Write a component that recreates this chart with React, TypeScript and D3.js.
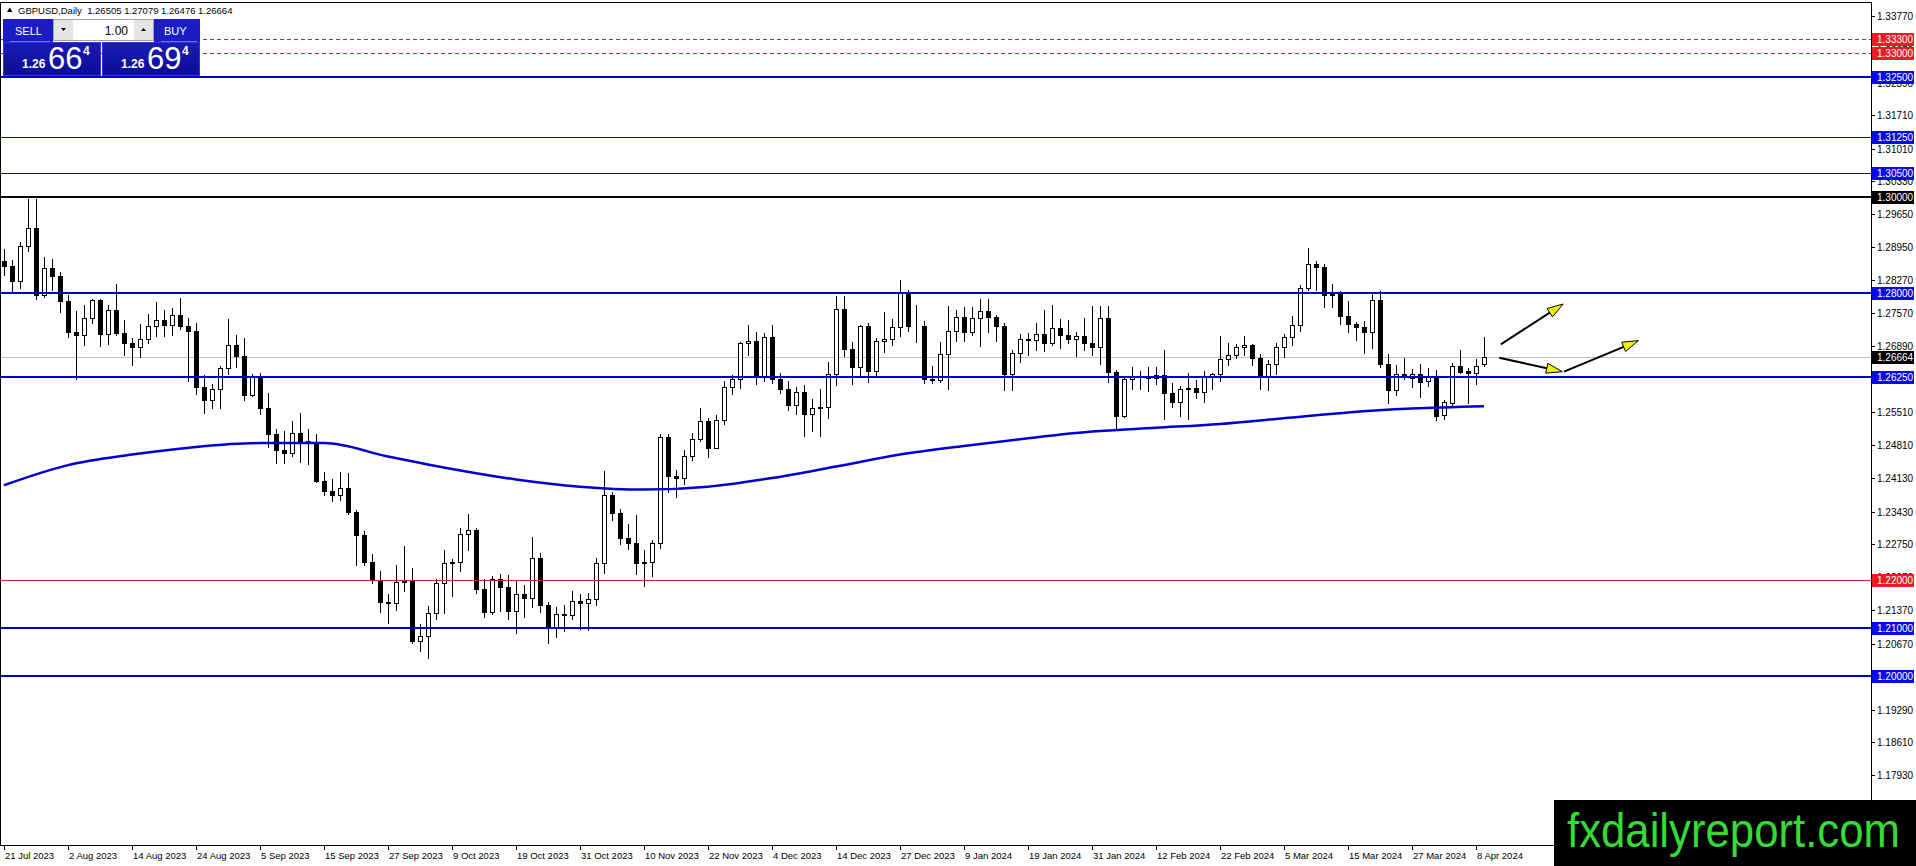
import { useEffect, useRef } from "react";
import * as d3 from "d3";

// GBPUSD daily bars [open, high, low, close], 21 Jul 2023 .. 9 Apr 2024
const candles: [number, number, number, number][] = [
  [1.2866, 1.2891, 1.2838, 1.2855], [1.2855, 1.2868, 1.2799, 1.2824], [1.2824, 1.2905, 1.281, 1.2897],
  [1.2897, 1.2995, 1.2887, 1.2936], [1.2936, 1.2996, 1.2787, 1.2795], [1.2795, 1.2875, 1.2792, 1.2851],
  [1.2851, 1.287, 1.2805, 1.2836], [1.2836, 1.2843, 1.2759, 1.2782], [1.2782, 1.2795, 1.2707, 1.2718],
  [1.2718, 1.2761, 1.262, 1.2712], [1.2712, 1.2775, 1.2691, 1.2748], [1.2748, 1.2787, 1.2737, 1.2785],
  [1.2785, 1.2787, 1.2688, 1.2714], [1.2714, 1.2775, 1.2692, 1.2763], [1.2763, 1.2818, 1.2711, 1.2716],
  [1.2716, 1.2743, 1.267, 1.2696], [1.2696, 1.2706, 1.265, 1.2687], [1.2687, 1.2735, 1.2665, 1.2703],
  [1.2703, 1.2755, 1.2695, 1.2731], [1.2731, 1.278, 1.2709, 1.2743], [1.2743, 1.2765, 1.271, 1.2733],
  [1.2733, 1.2768, 1.2712, 1.2754], [1.2754, 1.2789, 1.2724, 1.2731], [1.2731, 1.2748, 1.2616, 1.272],
  [1.272, 1.2737, 1.2588, 1.2603], [1.2603, 1.2628, 1.2548, 1.2575], [1.2575, 1.2609, 1.2559, 1.2599],
  [1.2599, 1.2648, 1.256, 1.2643], [1.2643, 1.2746, 1.2631, 1.2691], [1.2691, 1.2711, 1.2645, 1.2668],
  [1.2668, 1.2706, 1.2577, 1.2587], [1.2587, 1.263, 1.2584, 1.2623], [1.2623, 1.2632, 1.2546, 1.2559],
  [1.2559, 1.259, 1.2478, 1.2505], [1.2505, 1.2515, 1.2445, 1.2472], [1.2472, 1.2511, 1.2445, 1.2465],
  [1.2465, 1.2532, 1.246, 1.2508], [1.2508, 1.2548, 1.2446, 1.249], [1.249, 1.2515, 1.2442, 1.2488],
  [1.2488, 1.2505, 1.2404, 1.2407], [1.2407, 1.2426, 1.2377, 1.2385], [1.2385, 1.241, 1.2366, 1.2378],
  [1.2378, 1.2425, 1.2367, 1.2393], [1.2393, 1.2424, 1.2337, 1.2343], [1.2343, 1.2347, 1.2231, 1.2294],
  [1.2294, 1.2303, 1.2231, 1.2238], [1.2238, 1.2255, 1.2193, 1.2201], [1.2201, 1.2218, 1.2134, 1.2154],
  [1.2154, 1.217, 1.2111, 1.2152], [1.2152, 1.2232, 1.2137, 1.2196], [1.2196, 1.2271, 1.2178, 1.2199],
  [1.2199, 1.2226, 1.2069, 1.2073], [1.2073, 1.2108, 1.2052, 1.2083], [1.2083, 1.2146, 1.2037, 1.2132],
  [1.2132, 1.2203, 1.2118, 1.2194], [1.2194, 1.2262, 1.2131, 1.2236], [1.2236, 1.2244, 1.2166, 1.2237],
  [1.2237, 1.2309, 1.2218, 1.2297], [1.2297, 1.2337, 1.2262, 1.2305], [1.2305, 1.2309, 1.2173, 1.2182],
  [1.2182, 1.2203, 1.2123, 1.2134], [1.2134, 1.2208, 1.213, 1.2202], [1.2202, 1.2213, 1.2135, 1.2185],
  [1.2185, 1.221, 1.2119, 1.2135], [1.2135, 1.2197, 1.209, 1.2171], [1.2171, 1.219, 1.2123, 1.2163],
  [1.2163, 1.229, 1.2143, 1.2245], [1.2245, 1.2257, 1.2133, 1.2148], [1.2148, 1.2155, 1.2068, 1.2101],
  [1.2101, 1.2143, 1.208, 1.213], [1.213, 1.2148, 1.2093, 1.2128], [1.2128, 1.2178, 1.2118, 1.2157],
  [1.2157, 1.2171, 1.2097, 1.2152], [1.2152, 1.2172, 1.2096, 1.216], [1.216, 1.2246, 1.2148, 1.2235],
  [1.2235, 1.2428, 1.2215, 1.2378], [1.2378, 1.2384, 1.2325, 1.234], [1.234, 1.2349, 1.2276, 1.2288],
  [1.2288, 1.2318, 1.2264, 1.2277], [1.2277, 1.2335, 1.2213, 1.2236], [1.2236, 1.2263, 1.2187, 1.2237],
  [1.2237, 1.2283, 1.2209, 1.2277], [1.2277, 1.2505, 1.2266, 1.2498], [1.2498, 1.2505, 1.2384, 1.2418],
  [1.2418, 1.243, 1.2373, 1.2413], [1.2413, 1.2472, 1.24, 1.246], [1.246, 1.2507, 1.245, 1.2495],
  [1.2495, 1.2559, 1.2491, 1.2532], [1.2532, 1.2539, 1.2457, 1.2476], [1.2476, 1.2544, 1.2476, 1.2535],
  [1.2535, 1.2615, 1.2526, 1.2604], [1.2604, 1.2628, 1.2589, 1.262], [1.262, 1.2697, 1.2601, 1.2694],
  [1.2694, 1.2733, 1.2671, 1.27], [1.27, 1.2717, 1.261, 1.2625], [1.2625, 1.2715, 1.2616, 1.2708],
  [1.2708, 1.2733, 1.2612, 1.262], [1.262, 1.2633, 1.259, 1.2598], [1.2598, 1.2616, 1.2556, 1.2566],
  [1.2566, 1.2604, 1.2547, 1.2592], [1.2592, 1.2607, 1.25, 1.2547], [1.2547, 1.2579, 1.2512, 1.2559],
  [1.2559, 1.26, 1.25, 1.2561], [1.2561, 1.2656, 1.2539, 1.263], [1.263, 1.2793, 1.2608, 1.2766],
  [1.2766, 1.2794, 1.2667, 1.2683], [1.2683, 1.2697, 1.261, 1.2645], [1.2645, 1.2733, 1.2628, 1.273],
  [1.273, 1.2737, 1.2613, 1.2637], [1.2637, 1.2705, 1.2626, 1.2699], [1.2699, 1.276, 1.2677, 1.2703],
  [1.2703, 1.2745, 1.269, 1.2729], [1.2729, 1.2827, 1.271, 1.2802], [1.2802, 1.2806, 1.272, 1.273],
  [1.273, 1.2774, 1.2697, 1.2731], [1.2731, 1.2741, 1.2611, 1.2619], [1.2619, 1.2648, 1.2611, 1.2618],
  [1.2618, 1.2697, 1.2613, 1.2672], [1.2672, 1.2772, 1.2599, 1.272], [1.272, 1.2765, 1.27, 1.275],
  [1.275, 1.277, 1.27, 1.2718], [1.2718, 1.277, 1.2712, 1.2747], [1.2747, 1.2786, 1.2688, 1.2761],
  [1.2761, 1.2786, 1.2719, 1.275], [1.275, 1.2753, 1.27, 1.273], [1.273, 1.2737, 1.2596, 1.263],
  [1.263, 1.268, 1.2597, 1.2674], [1.2674, 1.2714, 1.2656, 1.2703], [1.2703, 1.2716, 1.2669, 1.2701],
  [1.2701, 1.2737, 1.2681, 1.2713], [1.2713, 1.2764, 1.2678, 1.2696], [1.2696, 1.2775, 1.269, 1.2727],
  [1.2727, 1.2746, 1.2685, 1.2711], [1.2711, 1.2744, 1.2694, 1.2703], [1.2703, 1.2718, 1.2667, 1.271],
  [1.271, 1.2748, 1.2681, 1.2695], [1.2695, 1.2772, 1.2669, 1.2687], [1.2687, 1.2773, 1.2652, 1.2747],
  [1.2747, 1.2772, 1.2613, 1.2634], [1.2634, 1.2639, 1.2518, 1.2543], [1.2543, 1.2627, 1.254, 1.262],
  [1.262, 1.2645, 1.2598, 1.2626], [1.2626, 1.2636, 1.26, 1.2623], [1.2623, 1.2645, 1.2595, 1.2622],
  [1.2622, 1.2645, 1.261, 1.2629], [1.2629, 1.268, 1.2536, 1.259], [1.259, 1.2611, 1.2561, 1.2572],
  [1.2572, 1.2605, 1.2542, 1.26], [1.26, 1.2633, 1.2536, 1.2601], [1.2601, 1.2617, 1.258, 1.2593],
  [1.2593, 1.2636, 1.2571, 1.2627], [1.2627, 1.2632, 1.26, 1.263], [1.263, 1.2709, 1.2616, 1.2662],
  [1.2662, 1.2694, 1.265, 1.267], [1.267, 1.2693, 1.2664, 1.2687], [1.2687, 1.271, 1.267, 1.269],
  [1.269, 1.2693, 1.265, 1.2663], [1.2663, 1.2672, 1.26, 1.2623], [1.2623, 1.266, 1.2597, 1.2652],
  [1.2652, 1.2694, 1.263, 1.2686], [1.2686, 1.2714, 1.2665, 1.2707], [1.2707, 1.2751, 1.269, 1.2733],
  [1.2733, 1.2817, 1.2721, 1.281], [1.281, 1.2894, 1.2805, 1.2859], [1.2859, 1.2866, 1.2805, 1.2853],
  [1.2853, 1.2861, 1.277, 1.2795], [1.2795, 1.2819, 1.2771, 1.2797], [1.2797, 1.2804, 1.2735, 1.2752],
  [1.2752, 1.2782, 1.2718, 1.2735], [1.2735, 1.2739, 1.2702, 1.2728], [1.2728, 1.274, 1.2674, 1.2718],
  [1.2718, 1.2802, 1.2684, 1.2785], [1.2785, 1.2803, 1.2645, 1.2651], [1.2651, 1.2672, 1.257, 1.2597],
  [1.2597, 1.2649, 1.2587, 1.263], [1.263, 1.2664, 1.262, 1.2624], [1.2622, 1.2641, 1.2603, 1.263],
  [1.263, 1.2651, 1.2582, 1.2614], [1.2616, 1.2643, 1.2605, 1.2623], [1.2624, 1.2639, 1.2534, 1.2542],
  [1.2545, 1.2576, 1.2536, 1.2571], [1.257, 1.2654, 1.2563, 1.2647], [1.2647, 1.2681, 1.2632, 1.2635],
  [1.2637, 1.2643, 1.257, 1.2632], [1.2632, 1.2662, 1.2609, 1.2648], [1.26505, 1.27079, 1.26476, 1.26664],
];

// time scale labels, one every 8 bars
const timeLabels = [
  "21 Jul 2023", "2 Aug 2023", "14 Aug 2023", "24 Aug 2023", "5 Sep 2023", "15 Sep 2023",
  "27 Sep 2023", "9 Oct 2023", "19 Oct 2023", "31 Oct 2023", "10 Nov 2023", "22 Nov 2023",
  "4 Dec 2023", "14 Dec 2023", "27 Dec 2023", "9 Jan 2024", "19 Jan 2024", "31 Jan 2024",
  "12 Feb 2024", "22 Feb 2024", "5 Mar 2024", "15 Mar 2024", "27 Mar 2024", "8 Apr 2024",
];
const barsPerLabel = 8;

// price scale ticks
const priceTicks = [
  1.3377, 1.3307, 1.3239, 1.3171, 1.3101, 1.3033, 1.2965, 1.2895, 1.2827, 1.2757, 1.2689, 1.2619,
  1.2551, 1.2481, 1.2413, 1.2343, 1.2275, 1.2207, 1.2137, 1.2067, 1.1999, 1.1929, 1.1861, 1.1793,
];

// moving average
const maBars = [0, 8, 16, 24, 32, 40, 48, 56, 64, 72, 80, 88, 96, 104, 112, 120, 128, 136, 144, 152, 160, 168, 176, 185];
const maValues = [
  1.2398, 1.244, 1.2462, 1.2478, 1.2486, 1.2486, 1.2458, 1.2432, 1.241, 1.2395, 1.2389, 1.2395,
  1.2413, 1.2437, 1.2462, 1.248, 1.2496, 1.251, 1.2518, 1.2526, 1.2538, 1.255, 1.2558, 1.2563,
];

// horizontal levels
const levelPrices = [1.333, 1.33, 1.325, 1.3125, 1.305, 1.3, 1.28, 1.2625, 1.22, 1.21, 1.2];
const levelKinds = ["redDash", "redDash", "blue", "blueThin", "blueThin", "black", "blue", "blue", "red", "blue", "blue"];

const bid = 1.26664;
const ask = 1.26694;

// arrows: [fromBar, fromPrice, toBar, toPrice]
const arrows: [number, number, number, number][] = [
  [187.1, 1.26923, 194.9, 1.27765],
  [186.9, 1.26643, 194.8, 1.26351],
  [195.0, 1.26351, 204.3, 1.26999],
];

const FONT = "'Liberation Sans', Arial, sans-serif";

const levelStyle: Record<string, { stroke: string; width: number; dash?: string; box: string }> = {
  redDash: { stroke: "#c0282a", width: 1, dash: "4,3", box: "#ec1c24" },
  blue: { stroke: "#0000c8", width: 2, box: "#0a0ae6" },
  blueThin: { stroke: "#0000c8", width: 1, box: "#0a0ae6" },
  black: { stroke: "#000000", width: 2, box: "#000000" },
  red: { stroke: "#c8282a", width: 1, box: "#ec1c24" },
};

export default function App() {
  const svgRef = useRef<SVGSVGElement>(null);

  useEffect(() => {
    document.body.style.margin = "0";
    if (!svgRef.current) return;
    const svg = d3.select(svgRef.current);
    svg.selectAll("*").remove();

    const W = 1916;
    const H = 866;
    const axisX = 1871;
    const plotBottom = 845;

    const x = d3.scaleLinear().domain([0, candles.length - 1]).range([4, 4 + 8 * (candles.length - 1)]);
    const y = d3.scaleLinear().domain([1.16466, 1.34114]).range([plotBottom, 0]);
    const py = (p: number) => Math.round(y(p));

    svg.append("rect").attr("width", W).attr("height", H).attr("fill", "#ffffff");

    const plot = svg.append("g").attr("shape-rendering", "crispEdges");

    // bid line
    plot
      .append("line")
      .attr("x1", 0)
      .attr("x2", axisX)
      .attr("y1", py(bid) + 0.5)
      .attr("y2", py(bid) + 0.5)
      .attr("stroke", "#c0c0c0");

    // candles
    const bars = plot
      .selectAll("g.bar")
      .data(candles)
      .enter()
      .append("g")
      .attr("class", "bar");

    bars
      .append("line")
      .attr("x1", (_d, i) => x(i) + 0.5)
      .attr("x2", (_d, i) => x(i) + 0.5)
      .attr("y1", (d) => py(d[1]))
      .attr("y2", (d) => py(d[2]) + 1)
      .attr("stroke", "#000");

    bars.each(function (d, i) {
      const g = d3.select(this);
      const [o, , , c] = d;
      const xc = x(i);
      if (c >= o) {
        const top = py(c);
        const bot = py(o);
        g.append("rect")
          .attr("x", xc - 1.5)
          .attr("y", top + 0.5)
          .attr("width", 4)
          .attr("height", Math.max(0, bot - top))
          .attr("fill", "#fff")
          .attr("stroke", "#000");
      } else {
        const top = py(o);
        const bot = py(c);
        g.append("rect")
          .attr("x", xc - 2)
          .attr("y", top)
          .attr("width", 5)
          .attr("height", Math.max(1, bot - top + 1))
          .attr("fill", "#000");
      }
    });

    // moving average
    const maLine = d3
      .line<number>()
      .x((_d, i) => x(maBars[i]))
      .y((d) => y(d))
      .curve(d3.curveMonotoneX);
    svg
      .append("path")
      .attr("d", maLine(maValues) || "")
      .attr("fill", "none")
      .attr("stroke", "#0000d2")
      .attr("stroke-width", 2.5);

    // horizontal levels
    levelPrices.forEach((p, i) => {
      const st = levelStyle[levelKinds[i]];
      const yy = st.width === 1 ? py(p) + 0.5 : py(p);
      plot
        .append("line")
        .attr("x1", 0)
        .attr("x2", axisX)
        .attr("y1", yy)
        .attr("y2", yy)
        .attr("stroke", st.stroke)
        .attr("stroke-width", st.width)
        .attr("stroke-dasharray", st.dash || null);
    });

    // arrows
    const arrowG = svg.append("g");
    arrows.forEach(([b1, p1, b2, p2]) => {
      const x1 = x(b1);
      const y1 = y(p1);
      const x2 = x(b2);
      const y2 = y(p2);
      const ang = Math.atan2(y2 - y1, x2 - x1);
      const len = 16;
      const hw = 5;
      const bx = x2 - len * Math.cos(ang);
      const by = y2 - len * Math.sin(ang);
      arrowG
        .append("line")
        .attr("x1", x1)
        .attr("y1", y1)
        .attr("x2", bx)
        .attr("y2", by)
        .attr("stroke", "#000")
        .attr("stroke-width", 2);
      const pts = [
        [x2, y2],
        [bx + hw * Math.sin(ang), by - hw * Math.cos(ang)],
        [bx - hw * Math.sin(ang), by + hw * Math.cos(ang)],
      ];
      arrowG
        .append("polygon")
        .attr("points", pts.map((q) => q.join(",")).join(" "))
        .attr("fill", "#f2f200")
        .attr("stroke", "#000")
        .attr("stroke-width", 1);
    });

    // frame and axes
    const frame = svg.append("g").attr("shape-rendering", "crispEdges");
    frame.append("line").attr("x1", 0).attr("x2", axisX).attr("y1", 2.5).attr("y2", 2.5).attr("stroke", "#000");
    frame.append("line").attr("x1", 0.5).attr("x2", 0.5).attr("y1", 2).attr("y2", plotBottom).attr("stroke", "#000");
    frame
      .append("line")
      .attr("x1", 0)
      .attr("x2", axisX)
      .attr("y1", plotBottom + 0.5)
      .attr("y2", plotBottom + 0.5)
      .attr("stroke", "#000");
    frame
      .append("line")
      .attr("x1", axisX + 0.5)
      .attr("x2", axisX + 0.5)
      .attr("y1", 2)
      .attr("y2", H)
      .attr("stroke", "#000");

    // price scale
    const ticks = svg.append("g");
    priceTicks.forEach((p) => {
      const yy = py(p);
      ticks
        .append("line")
        .attr("x1", axisX)
        .attr("x2", axisX + 4)
        .attr("y1", yy + 0.5)
        .attr("y2", yy + 0.5)
        .attr("stroke", "#000")
        .attr("shape-rendering", "crispEdges");
      ticks
        .append("text")
        .attr("x", axisX + 6)
        .attr("y", yy + 4)
        .attr("font-family", FONT)
        .attr("font-size", 10)
        .attr("fill", "#000")
        .text(p.toFixed(5));
    });

    const priceBox = (p: number, bg: string) => {
      const yy = py(p);
      ticks
        .append("rect")
        .attr("x", axisX + 1)
        .attr("y", yy - 6)
        .attr("width", 42)
        .attr("height", 13)
        .attr("fill", bg)
        .attr("shape-rendering", "crispEdges");
      ticks
        .append("text")
        .attr("x", axisX + 6)
        .attr("y", yy + 4)
        .attr("font-family", FONT)
        .attr("font-size", 10)
        .attr("fill", "#fff")
        .text(p.toFixed(5));
    };
    levelPrices.forEach((p, i) => priceBox(p, levelStyle[levelKinds[i]].box));
    priceBox(bid, "#000");

    // time scale
    const tg = svg.append("g");
    timeLabels.forEach((lab, k) => {
      const xx = x(k * barsPerLabel);
      tg.append("line")
        .attr("x1", xx + 0.5)
        .attr("x2", xx + 0.5)
        .attr("y1", plotBottom)
        .attr("y2", plotBottom + 5)
        .attr("stroke", "#000")
        .attr("shape-rendering", "crispEdges");
      tg.append("text")
        .attr("x", xx + 1)
        .attr("y", 859)
        .attr("font-family", FONT)
        .attr("font-size", 9.5)
        .attr("fill", "#000")
        .text(lab);
    });

    // title
    const last = candles[candles.length - 1];
    svg
      .append("polygon")
      .attr("points", "7,12 12.5,12 9.75,7.5")
      .attr("fill", "#000");
    svg
      .append("text")
      .attr("x", 18)
      .attr("y", 14)
      .attr("font-family", FONT)
      .attr("font-size", 9.5)
      .attr("fill", "#000")
      .attr("xml:space", "preserve")
      .text(`GBPUSD,Daily  ${last.map((v) => v.toFixed(5)).join(" ")}`);

    // one click trading panel
    const panel = svg.append("g");
    const defs = svg.append("defs");
    const grad = defs.append("linearGradient").attr("id", "pbox").attr("x1", 0).attr("y1", 0).attr("x2", 0).attr("y2", 1);
    grad.append("stop").attr("offset", "0%").attr("stop-color", "#1a1ab8");
    grad.append("stop").attr("offset", "100%").attr("stop-color", "#0c0c96");

    const header = (x0: number, w: number, label: string, tx: number) => {
      panel.append("rect").attr("x", x0).attr("y", 19).attr("width", w).attr("height", 23).attr("fill", "#1c1cc6");
      panel
        .append("line")
        .attr("x1", x0 + 7)
        .attr("x2", x0 + w - 3)
        .attr("y1", 41.5)
        .attr("y2", 41.5)
        .attr("stroke", "#6f6ff0")
        .attr("shape-rendering", "crispEdges");
      panel
        .append("text")
        .attr("x", tx)
        .attr("y", 35)
        .attr("font-family", FONT)
        .attr("font-size", 11)
        .attr("fill", "#fff")
        .text(label);
    };
    header(3, 50, "SELL", 15);
    header(154, 46, "BUY", 164);

    // lots box
    panel.append("rect").attr("x", 53.5).attr("y", 19.5).attr("width", 100).attr("height", 21).attr("fill", "#fff").attr("stroke", "#a0a0a0");
    panel.append("rect").attr("x", 54).attr("y", 20).attr("width", 19).attr("height", 20).attr("fill", "#e4e4e4");
    panel.append("rect").attr("x", 134).attr("y", 20).attr("width", 19).attr("height", 20).attr("fill", "#e4e4e4");
    panel.append("polygon").attr("points", "61,28 66,28 63.5,31").attr("fill", "#000");
    panel.append("polygon").attr("points", "141,31 146,31 143.5,28").attr("fill", "#000");
    panel
      .append("text")
      .attr("x", 128)
      .attr("y", 35)
      .attr("text-anchor", "end")
      .attr("font-family", FONT)
      .attr("font-size", 12)
      .attr("fill", "#000")
      .text("1.00");

    const priceBlock = (x0: number, w: number, price: number) => {
      const s = price.toFixed(5);
      panel
        .append("rect")
        .attr("x", x0 + 0.5)
        .attr("y", 42.5)
        .attr("width", w)
        .attr("height", 33)
        .attr("fill", "url(#pbox)")
        .attr("stroke", "#3434d8");
      panel
        .append("text")
        .attr("x", x0 + 19)
        .attr("y", 68)
        .attr("font-family", FONT)
        .attr("font-size", 12)
        .attr("font-weight", "bold")
        .attr("fill", "#fff")
        .text(s.slice(0, 4));
      panel
        .append("text")
        .attr("x", x0 + 45)
        .attr("y", 69)
        .attr("font-family", FONT)
        .attr("font-size", 31)
        .attr("fill", "#fff")
        .text(s.slice(4, 6));
      panel
        .append("text")
        .attr("x", x0 + 80)
        .attr("y", 55)
        .attr("font-family", FONT)
        .attr("font-size", 12)
        .attr("font-weight", "bold")
        .attr("fill", "#fff")
        .text(s.slice(6));
    };
    priceBlock(3, 97, bid);
    priceBlock(102, 97, ask);

    // watermark, squeezed horizontally to the reference width
    svg.append("rect").attr("x", 1554).attr("y", 800).attr("width", 362).attr("height", 66).attr("fill", "#000");
    const wm = svg
      .append("text")
      .attr("x", 0)
      .attr("y", 0)
      .attr("font-family", FONT)
      .attr("font-size", 48)
      .attr("fill", "#33dd33")
      .text("fxdailyreport.com");
    const natural = (wm.node() as SVGTextElement).getComputedTextLength() || 400;
    wm.attr("transform", `translate(1567,847) scale(${333 / natural},1)`);
  }, []);

  return <svg ref={svgRef} width={1916} height={866} style={{ display: "block" }} />;
}
